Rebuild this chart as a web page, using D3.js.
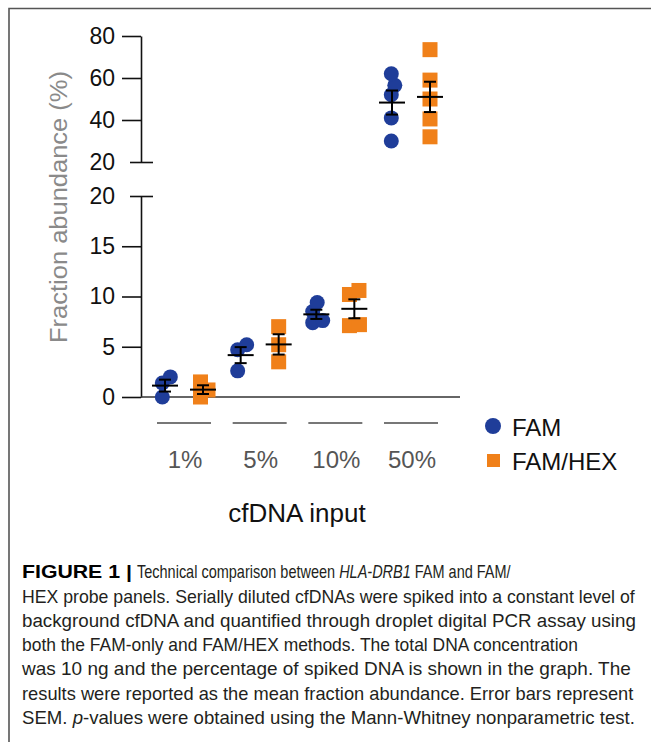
<!DOCTYPE html>
<html><head><meta charset="utf-8">
<script src="https://cdn.jsdelivr.net/npm/d3@7"></script>
<style>body{margin:0;background:#fff} svg{display:block} text{font-family:"Liberation Sans",Arial,Helvetica,sans-serif}</style>
</head><body><svg id="c" width="651" height="742"></svg>
<script>
const categories = ["1%","5%","10%","50%"];
const seriesNames = ["FAM","FAM/HEX"];
const famValues = [[0,1.4,2.0],[2.6,4.7,5.2],[7.4,7.6,8.5,9.4],[30,41,52,56.5,62]];
const famHexValues = [[0,0.7,1.5],[3.5,5.2,7.0],[7.1,7.2,10.2,10.6],[32,40.5,50,59,73.5]];
const lowerTicks = [0,5,10,15,20];
const upperTicks = [20,40,60,80];
const yTitle = "Fraction abundance (%)";
const xTitle = "cfDNA input";
// each line: list of text pieces; each piece: [[text, style], ...], target x-start, target width
const captionLines = [
  [[[["FIGURE 1 |","b"]],22,110],[[["Technical comparison between ",""],["HLA-DRB1","i"],[" FAM and FAM/",""]],137,374]],
  [[[["HEX probe panels. Serially diluted cfDNAs were spiked into a constant level of",""]],22,613]],
  [[[["background cfDNA and quantified through droplet digital PCR assay using",""]],22,614]],
  [[[["both the FAM-only and FAM/HEX methods. The total DNA concentration",""]],22,556]],
  [[[["was 10 ng and the percentage of spiked DNA is shown in the graph. The",""]],22,609]],
  [[[["results were reported as the mean fraction abundance. Error bars represent",""]],22,612]],
  [[[["SEM. ",""],["p","i"],["-values were obtained using the Mann-Whitney nonparametric test.",""]],22,613]]
];

const svg = d3.select("#c");
const colors = {"FAM":"#1F3D99","FAM/HEX":"#F08019"};

// frame
svg.append("path").attr("d","M9,742V8.5H651").attr("fill","none").attr("stroke","#555").attr("stroke-width",1.6);

const axisX = 141;
const yLow = d3.scaleLinear().domain([0,20]).range([397,196]);
const yHigh = d3.scaleLinear().domain([20,80]).range([162,36]);
const yOf = v => v > 20 ? yHigh(v) : yLow(v);

const xCat = d3.scalePoint().domain(categories).range([184,411]);
const xSer = d3.scalePoint().domain(seriesNames).range([-19,19]);

function drawAxis(scale, ticks){
  const g = svg.append("g").attr("transform",`translate(${axisX},0)`)
    .call(d3.axisLeft(scale).tickValues(ticks).tickSize(19).tickSizeOuter(0).tickPadding(7));
  g.select(".domain").attr("stroke","#111").attr("stroke-width",1.6);
  g.selectAll(".tick line").attr("stroke","#111").attr("stroke-width",1.6);
  g.selectAll(".tick text").attr("font-size",23).attr("fill","#111")
    .attr("font-family","Liberation Sans, Arial, sans-serif");
  g.selectAll(".tick").filter(d=>d===20).select("line").attr("x1",-11).attr("x2",12);
  return g;
}
drawAxis(yLow, lowerTicks);
drawAxis(yHigh, upperTicks);

// x baseline
svg.append("line").attr("x1",axisX).attr("x2",460).attr("y1",yLow(0)).attr("y2",yLow(0))
  .attr("stroke","#333").attr("stroke-width",1.6);

// y title
svg.append("text").attr("transform","translate(59,207) rotate(-90)")
  .attr("text-anchor","middle").attr("dominant-baseline","central")
  .attr("font-size",23).attr("fill","#8a8a8a").attr("textLength",272).attr("lengthAdjust","spacingAndGlyphs")
  .text(yTitle);

function swarm(vals, d){
  const pts = vals.map(v=>({v, y:yOf(v)})).sort((a,b)=>b.y-a.y);
  const placed=[];
  pts.forEach(p=>{
    let best=0;
    for(let k=0;k<400;k++){
      const cand=(k%2===0?-1:1)*Math.ceil(k/2)*0.5;
      if(placed.every(q=>Math.hypot(q.x-cand,q.y-p.y)>=d)){best=cand;break;}
    }
    p.x=best; placed.push(p);
  });
  const m=d3.mean(placed,p=>p.x);
  placed.forEach(p=>p.x-=m);
  return placed;
}

const seriesData = {"FAM":famValues,"FAM/HEX":famHexValues};
const gPts = svg.append("g");
const gErr = svg.append("g");
seriesNames.forEach(s=>{
  categories.forEach((c,ci)=>{
    const vals = seriesData[s][ci];
    const cx = xCat(c)+xSer(s);
    const pts = swarm(vals, 10);
    if(s==="FAM"){
      gPts.selectAll(null).data(pts).enter().append("circle")
        .attr("cx",p=>cx+p.x).attr("cy",p=>p.y).attr("r",7.5).attr("fill",colors[s]);
    } else {
      gPts.selectAll(null).data(pts).enter().append("rect")
        .attr("x",p=>cx+p.x-7.5).attr("y",p=>p.y-7.5).attr("width",15).attr("height",15).attr("fill",colors[s]);
    }
    const mean = d3.mean(vals);
    const sem = d3.deviation(vals)/Math.sqrt(vals.length);
    const ym = yOf(mean), y1 = yOf(mean+sem), y2 = yOf(mean-sem);
    const e = gErr.append("g").attr("stroke","#000").attr("stroke-width",2);
    e.append("line").attr("x1",cx-13).attr("x2",cx+13).attr("y1",ym).attr("y2",ym);
    e.append("line").attr("x1",cx).attr("x2",cx).attr("y1",y1).attr("y2",y2);
    e.append("line").attr("x1",cx-6).attr("x2",cx+6).attr("y1",y1).attr("y2",y1);
    e.append("line").attr("x1",cx-6).attr("x2",cx+6).attr("y1",y2).attr("y2",y2);
  });
});

// group labels
categories.forEach(c=>{
  const x = xCat(c);
  svg.append("line").attr("x1",x-27).attr("x2",x+27).attr("y1",423).attr("y2",423)
    .attr("stroke","#777").attr("stroke-width",2);
  svg.append("text").attr("x",x+1).attr("y",468).attr("text-anchor","middle")
    .attr("font-size",24).attr("fill","#555").text(c);
});
svg.append("text").attr("x",297).attr("y",522).attr("text-anchor","middle")
  .attr("font-size",26).attr("fill","#111").text(xTitle);

// legend
svg.append("circle").attr("cx",493).attr("cy",426).attr("r",8).attr("fill",colors["FAM"]);
svg.append("text").attr("x",512).attr("y",436).attr("font-size",24).attr("fill","#111").text(seriesNames[0]);
svg.append("rect").attr("x",487).attr("y",454).attr("width",13).attr("height",13).attr("fill",colors["FAM/HEX"]);
svg.append("text").attr("x",512).attr("y",470).attr("font-size",24).attr("fill","#111").text(seriesNames[1]);

// caption
const baselines = [578,603,627,651,675,700,724];
captionLines.forEach((pieces,i)=>{
  pieces.forEach(([segs,x0,wT])=>{
    const t = svg.append("text").attr("font-size",18).attr("fill","#231f20");
    segs.forEach(([txt,st])=>{
      const ts = t.append("tspan").text(txt);
      if(st==="b") ts.attr("font-weight","bold").attr("fill","#000");
      if(st==="i") ts.attr("font-style","italic");
    });
    const w = t.node().getComputedTextLength();
    t.attr("transform",`translate(${x0},${baselines[i]}) scale(${wT/w},1)`);
  });
});
</script></body></html>
